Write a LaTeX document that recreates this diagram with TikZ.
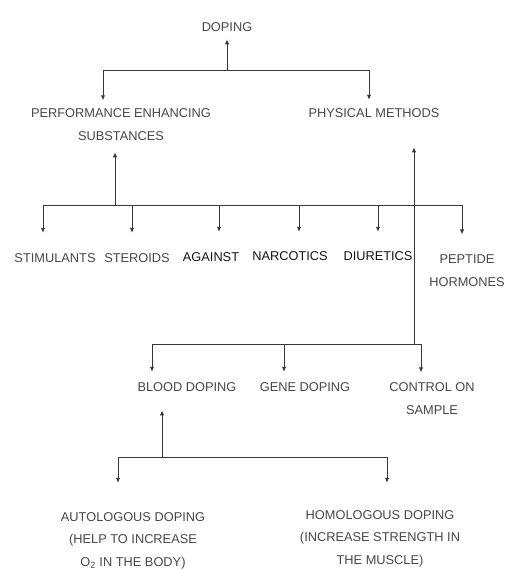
\documentclass[tikz,border=0pt]{standalone}
\usepackage{fontspec}
\setmainfont{Liberation Sans}
\usetikzlibrary{arrows.meta}
\begin{document}
\begin{tikzpicture}[x=1pt,y=-1pt,
  lbl/.style={anchor=base,align=center,inner sep=0pt,text=black!72,
    font=\fontsize{12.8}{22.5}\selectfont},
  lbldark/.style={lbl,text=black!92},
  ln/.style={draw=black!78,line width=1pt},
  arr/.style={ln,-{Latex[length=5pt,width=4.4pt]}}]
  \useasboundingbox (0,0) rectangle (508,570);
  \node[lbl] (doping) at (227,31) {DOPING};
  \node[lbl] (pes) at (121,140) {PERFORMANCE ENHANCING\\SUBSTANCES};
  \node[lbl] (phys) at (374,117) {PHYSICAL METHODS};
  \node[lbl] (stim) at (55,262) {STIMULANTS};
  \node[lbl] (ster) at (137,262) {STEROIDS};
  \node[lbldark] (against) at (211,261) {AGAINST};
  \node[lbldark] (narc) at (290,260) {NARCOTICS};
  \node[lbldark] (diur) at (378,260) {DIURETICS};
  \node[lbl] (pept) at (467,286) {PEPTIDE\\HORMONES};
  \node[lbl] (blood) at (187,391) {BLOOD DOPING};
  \node[lbl] (gene) at (305,391) {GENE DOPING};
  \node[lbl] (ctrl) at (432,414) {CONTROL ON\\SAMPLE};
  \node[lbl] (auto) at (133,566) {AUTOLOGOUS DOPING\\(HELP TO INCREASE\\O\textsubscript{2} IN THE BODY)};
  \node[lbl] (homo) at (380,564) {HOMOLOGOUS DOPING\\(INCREASE STRENGTH IN\\THE MUSCLE)};
  \coordinate (jtop) at (227,70);
  \coordinate (jpes) at (115,205);
  \coordinate (jphys) at (414,344);
  \coordinate (jblood) at (162,457);
  \draw[arr,shorten >=8pt] (jtop) -- (doping.south);
  \draw[arr,shorten >=8pt] (jtop) -| ([xshift=-18pt]pes.north);
  \draw[arr,shorten >=8pt] (jtop) -| ([xshift=-5pt]phys.north);
  \draw[arr,shorten >=12pt] (jpes) -- ([xshift=-6pt]pes.south);
  \draw[arr,shorten >=20pt] (jpes) -| ([xshift=-12pt]stim.north);
  \draw[arr,shorten >=20pt] (jpes) -| ([xshift=-5pt]ster.north);
  \draw[arr,shorten >=20pt] (jpes) -| ([xshift=8pt]against.north);
  \draw[arr,shorten >=19pt] (jpes) -| ([xshift=9pt]narc.north);
  \draw[arr,shorten >=19pt] (jpes) -| (diur.north);
  \draw[arr,shorten >=20pt] (jpes) -| ([xshift=-5pt]pept.north);
  \draw[arr,shorten >=30pt] (jphys) -- ([xshift=40pt]phys.south);
  \draw[arr,shorten >=10pt] (jphys) -| ([xshift=-35pt]blood.north);
  \draw[arr,shorten >=10pt] (jphys) -| ([xshift=-21pt]gene.north);
  \draw[arr,shorten >=10pt] (jphys) -| ([xshift=-11pt]ctrl.north);
  \draw[arr,shorten >=19pt] (jblood) -- ([xshift=-25pt]blood.south);
  \draw[arr,shorten >=29pt] (jblood) -| ([xshift=-15pt]auto.north);
  \draw[arr,shorten >=27pt] (jblood) -| ([xshift=7pt]homo.north);
\end{tikzpicture}
\end{document}
